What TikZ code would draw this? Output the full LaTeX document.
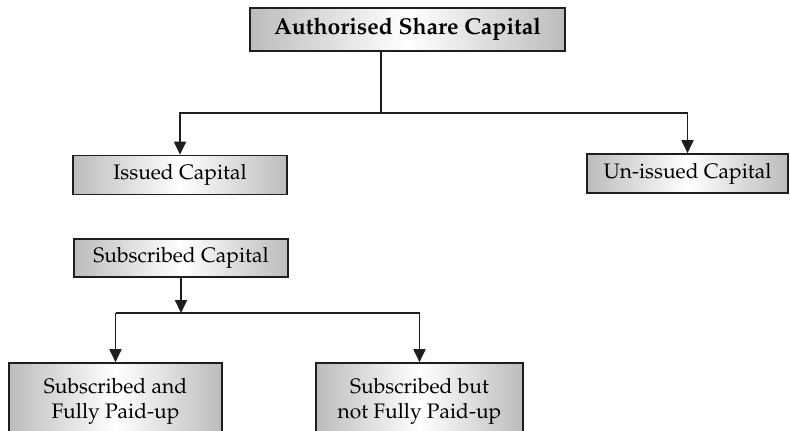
\documentclass[tikz,border=0pt]{standalone}
\usepackage[T1]{fontenc}
\usepackage{mathpazo}
\definecolor{boxgris}{RGB}{188,188,188}
\definecolor{trait}{RGB}{30,30,30}
\usetikzlibrary{arrows.meta,positioning,calc}

\begin{document}
\begin{tikzpicture}[x=1pt,y=1pt,font=\fontsize{21}{25}\selectfont,
				cadre/.style={draw=trait,line width=1.6pt,left color=boxgris,right color=boxgris,middle color=white,inner sep=2pt,align=center},
				arr/.style={-{Triangle[length=13pt,width=12pt]},trait,line width=1.8pt}]
				\useasboundingbox (0,0) rectangle (790,-431);
				\clip (0,0) rectangle (790,-431);
				
				\node[cadre,minimum width=315pt,minimum height=43pt,font=\fontsize{23}{27}\selectfont\bfseries] (auth) at (407.5,-29.5){Authorised Share Capital};
				
				\node[cadre,minimum width=214pt,minimum height=39pt] (issued) at (180,-175){Issued Capital};
				\node[cadre,minimum width=201pt,minimum height=39pt] (unissued) at (687.5,-173.5){Un-issued Capital};
				\coordinate (j1) at (381,-113);
				\draw[trait,line width=1.8pt](j1 |- auth.south)--(j1);
				\draw[arr](j1)-|(issued);
				\draw[arr](j1)-|(unissued);
				
				\node[cadre,minimum width=214pt,minimum height=38pt] (subcap) at (181,-258){Subscribed Capital};
				
				\node[cadre,minimum width=213pt,minimum height=76pt] (paid) at (115.5,-401){Subscribed and\\Fully Paid-up};
				\node[cadre,minimum width=207pt,minimum height=76pt] (notpaid) at (419.5,-401){Subscribed but\\not Fully Paid-up};
				\coordinate (j2) at (181,-313);
				\draw[arr](subcap)--(j2);
				\draw[trait,line width=1.8pt](paid.north |- j2)--(notpaid.north |- j2);
				\draw[arr](j2 -| paid.north)--(paid);
				\draw[arr](j2 -| notpaid.north)--(notpaid);
			\end{tikzpicture}
\end{document}
